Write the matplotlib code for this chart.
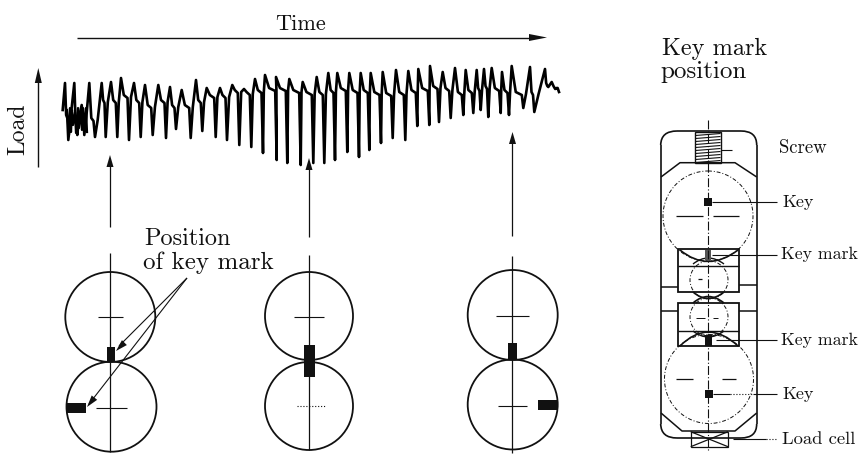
import matplotlib
matplotlib.use("Agg")
import matplotlib.pyplot as plt
from matplotlib.patches import Circle, Rectangle, PathPatch
from matplotlib.path import Path

# Load trace, one entry per oscillation
peak_x = [65,74.3,81.7,89.3,101.7,111,121,134,145,158.3,170,181.7,196,206.7,220,232.3,244,255,265,276,289.3,
          302.7,316.7,328.3,337.3,349.3,360.7,370.7,382.7,396,408.3,418.3,430,442.7,455,465.7,476.7,484,491.7,502,511.7,530,545,551.7]
peak_y = [83,83,105,83,83,82,78,83,85,85,87,90,80,88,88,85,89,79,75,77,79,
          82,77,73,73,73,73,73,72,70,71,69,66,72,68,70,70,69,68,72,66,67,69,82]
shoulder_y = [115,115,115,118,100,100,95,100,105,100,105,105,100,95,95,90,92,90,88,88,90,
              92,92,90,88,90,90,92,93,92,90,88,86,88,92,90,88,86,88,90,92,92,83,86]
trough_x = [68.3,77.3,84.3,95,105.7,117.3,129,140.7,152.7,166,176,190.7,202.3,215.7,227,239.3,251.3,263,276.7,287.3,300.7,
            313.3,324.3,335,347.3,359,369.3,381,392.7,405.3,417.3,429.3,439,450.7,463.3,473.3,480.7,488.3,500.7,509,523.3,534.3,548.3,556.7]
trough_y = [140,135,135,137,137,137,140,137,135,138,129,138,131,137,140,145,147,153,160,163,165,
            163,163,160,152,157,150,143,138,140,126,125,122,118,115,113,110,117,113,115,108,112,87,88]
# dense ripple at the start of the record
ripple_x = [67,69,70,71,72,73,75,76,78,79,81,82,83,85,86,87]
ripple_y = [110,135,108,132,110,125,112,133,108,128,110,130,108,128,108,132]

circle_x = [110.3, 111.5, 309, 309, 512.7, 512.7]
circle_y = [317, 406.7, 316, 406, 315, 404.5]
circle_r = [45, 45, 44, 44, 45, 45]

fig = plt.figure(figsize=(8.62, 4.54), dpi=100)
ax = fig.add_axes([0, 0, 1, 1])
ax.set_xlim(0, 862); ax.set_ylim(454, 0); ax.axis("off")
INK = "#111111"
SERIF = "cmr10"

def line(xs, ys, lw=1.0, ls="-", c=INK):
    ax.plot(xs, ys, lw=lw, ls=ls, color=c, solid_capstyle="butt")

def head(x, y, dx, dy, length=12, width=7):
    nx, ny = -dy, dx
    ax.fill([x, x-dx*length+nx*width/2, x-dx*length-nx*width/2],
            [y, y-dy*length+ny*width/2, y-dy*length-ny*width/2], color=INK, lw=0)

def txt(x, y, s, size=11, **k):
    ax.text(x, y, s, fontsize=size, family=SERIF, color=INK, va="baseline", **k)

def box(x0, y0, x1, y1, fc=INK, lw=0.0, ec=INK, **k):
    ax.add_patch(Rectangle((x0, y0), x1-x0, y1-y0, facecolor=fc, edgecolor=ec, lw=lw, **k))

def curve(p0, ctrl, p1, lw=1.2, ls="-"):
    ax.add_patch(PathPatch(Path([p0, ctrl, p1], [Path.MOVETO, Path.CURVE3, Path.CURVE3]),
                           fc="none", ec=INK, lw=lw, ls=ls))

# --- Trace
tx, ty = [62.7], [110]
for i in range(len(peak_x)):
    px, py, sy, qx, qy = peak_x[i], peak_y[i], shoulder_y[i], trough_x[i], trough_y[i]
    w = qx - px
    tx += [px, px + w*0.35, qx - min(1.5, w*0.3), qx]
    ty += [py, sy, sy + 3, qy]
    nx = peak_x[i+1] if i + 1 < len(peak_x) else 559
    tx.append(qx + (nx - qx)*0.4)
    ty.append(sy + 2)
tx.append(559); ty.append(92)
ax.plot(tx, ty, color="#000000", lw=1.9, solid_joinstyle="round")
ax.plot(ripple_x, ripple_y, color="#000000", lw=1.6)

# --- Time and load axes
line([77, 532], [37.5, 37.5], 1.0); head(547, 37.5, 1, 0, 18, 7)
txt(275, 30, "Time", 16)
line([38.3, 38.3], [78, 167], 1.0); head(38.3, 68, 0, -1, 15, 7)
ax.text(18.7, 129, "Load", rotation=90, fontsize=17, family=SERIF, color=INK, ha="center", va="center")

# --- Rolls
for cx, cy, r in zip(circle_x, circle_y, circle_r):
    ax.add_patch(Circle((cx, cy), r, fc="none", ec=INK, lw=1.3))
for x0, x1, y, ls in [(98,123,317,"-"),(96,127,407.6,"-"),(294,324,316.7,"-"),(297,325,406,":"),
                      (496,529,315.7,"-"),(498,527,406,"-")]:
    line([x0, x1], [y, y], 0.8, ls)

# vertical lines and arrows
line([110, 110], [165, 227], 0.9); head(110, 155, 0, -1)
line([110.5, 110.5], [253, 452], 0.9)
line([309, 309], [168, 237], 0.9); head(309, 158, 0, -1)
line([309, 309], [255, 450], 0.9)
line([512.5, 512.5], [142, 236], 0.9); head(512.5, 132, 0, -1)
line([512.5, 512.5], [256, 453], 0.9)

# key marks
box(106.7, 347, 115, 362); box(67, 403, 86, 413)
box(304, 345, 315, 377)
box(507.7, 343, 517.3, 360); box(538, 400, 558, 410)

# position-of-key-mark leaders
line([187, 119], [278, 346], 0.8); head(116, 351, -0.7, 0.7)
line([187, 89], [278, 404], 0.8); head(87, 407, -0.62, 0.78)
txt(144, 245, "Position", 17.5)
txt(142.7, 269, "of key mark", 18)

# --- Right-hand drawing
txt(662, 55, "Key mark", 17.5)
txt(660, 78, "position", 18)

curve((660.7, 145), (661, 131), (677, 131)); curve((741, 131), (756.7, 131), (756.7, 145))
curve((660.7, 424), (661, 438), (677, 438)); curve((741, 438), (756.7, 438), (756.7, 424))
line([677, 741], [131, 131], 1.2); line([677, 741], [438, 438], 1.2)
line([660.7, 660.7], [145, 424], 1.2); line([756.7, 756.7], [145, 424], 1.2)
line([661, 680, 735, 756.7], [177, 162.7, 162.7, 177], 1.1)
line([661, 682, 735, 756.7], [413, 431, 431, 413], 1.1)
box(695, 132, 721, 163, fc="white", ec=INK, lw=1.0)
for hy in range(134, 163, 3):
    line([695.5, 720.5], [hy+1.5, hy-0.5], 0.8)

for c, r in [((708, 216), 45), ((709, 379), 44.5), ((709, 280), 19), ((709, 317), 19)]:
    ax.add_patch(Circle(c, r, fc="none", ec=INK, lw=0.7, ls=(0, (4, 2, 1, 2))))

box(677.7, 249, 739.3, 292.3, fc="none", lw=1.3)
box(677.7, 303, 739.3, 346, fc="none", lw=1.3)
line([677.7, 739.3], [266, 266], 1.0)
line([677.7, 739.3], [330.7, 330.7], 1.0)
line([661, 677.7], [287, 287], 1.1); line([739.3, 756.7], [285, 285], 1.1)
line([661, 677.7], [311, 311], 1.1); line([739.3, 756.7], [311, 311], 1.1)
curve((680, 250), (708, 273), (738, 250)); curve((680, 346), (708, 318), (738, 346))
curve((693, 292), (708, 305), (724, 292)); curve((693, 303), (708, 290), (724, 303))
curve((693, 264), (708, 252), (724, 264), 1.0); curve((693, 331), (708, 343), (724, 331), 1.0)

line([708, 708], [120, 450], 0.8, (0, (8, 2, 1, 2)))
line([676, 703], [216, 216], 0.9); line([713, 739], [216, 216], 0.9)
line([676, 693], [379, 379], 0.9); line([722, 736], [379, 379], 0.9)
line([698, 702], [279, 279], 0.9); line([696, 705], [318, 318], 0.7); line([713, 718], [318, 318], 0.7)

box(704, 198, 712, 206); box(705, 390, 713, 398)
box(705, 250, 711, 260, fc="#555555"); box(705, 335, 712, 346)
box(690.7, 431.7, 728, 446.7, fc="none", lw=0.9)
line([690.7, 728], [431.7, 446.7], 0.9); line([690.7, 728], [446.7, 431.7], 0.9)

for x0, x1, y, ls in [(712, 777, 201.7, "-"), (712, 777, 255, "-"), (716, 777, 340, "-"),
                      (713, 730, 394, "-"), (730, 753, 394, ":"), (753, 777, 394, "-"),
                      (721, 732, 150, "-"), (733, 766, 439, "-"), (766, 776, 439, ":")]:
    line([x0, x1], [y, y], 0.8, ls)

txt(779, 153, "Screw", 13.5)
txt(782, 206.7, "Key", 13)
txt(781.5, 259, "Key mark", 12.8)
txt(781.5, 345, "Key mark", 12.8)
txt(782, 399, "Key", 13)
txt(782.5, 444, "Load cell", 13.4)

fig.savefig("out.png", dpi=100, facecolor="white")
